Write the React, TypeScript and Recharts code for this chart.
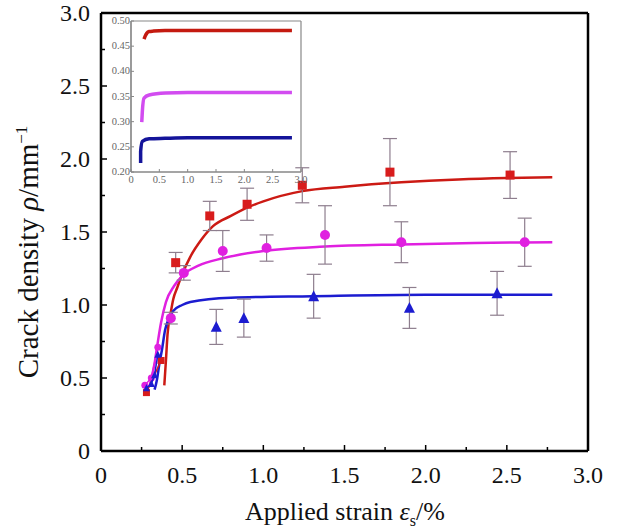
import React from "react";
import { ComposedChart, LineChart, Line, Scatter, XAxis, YAxis, ErrorBar, ReferenceLine } from "recharts";

const FONT = '"Liberation Serif", "Times New Roman", serif';

const xTicks = [0, 0.25, 0.5, 0.75, 1, 1.25, 1.5, 1.75, 2, 2.25, 2.5, 2.75, 3];
const yTicks = [0, 0.25, 0.5, 0.75, 1, 1.25, 1.5, 1.75, 2, 2.25, 2.5, 2.75, 3];
const insetXTicks = [0, 0.5, 1, 1.5, 2, 2.5, 3];
const insetYTicks = [0.2, 0.25, 0.3, 0.35, 0.4, 0.45, 0.5];

// measured crack density with scatter
const redX = [0.46, 0.67, 0.9, 1.24, 1.78, 2.52];
const redY = [1.29, 1.61, 1.69, 1.82, 1.91, 1.89];
const redErr = [0.07, 0.1, 0.11, 0.12, 0.23, 0.16];
const redLowX = [0.28, 0.37];
const redLowY = [0.4, 0.62];

const magX = [0.43, 0.51, 0.75, 1.02, 1.38, 1.85, 2.61];
const magY = [0.91, 1.22, 1.37, 1.39, 1.48, 1.43, 1.43];
const magErr = [0.04, 0.05, 0.14, 0.09, 0.2, 0.14, 0.165];
const magLowX = [0.27, 0.31, 0.35];
const magLowY = [0.45, 0.5, 0.71];

const blueX = [0.71, 0.88, 1.31, 1.9, 2.44];
const blueY = [0.85, 0.91, 1.06, 0.98, 1.08];
const blueErr = [0.12, 0.13, 0.15, 0.14, 0.15];
const blueLowX = [0.28, 0.31, 0.33, 0.35];
const blueLowY = [0.43, 0.46, 0.52, 0.66];

// fitted curves
const redFitX = [0.39, 0.4, 0.41, 0.43, 0.445, 0.47, 0.5, 0.55, 0.62, 0.69, 0.8, 0.907, 1.0, 1.24, 1.5, 1.85, 2.2, 2.5, 2.78];
const redFitY = [0.45, 0.62, 0.8, 0.95, 1.04, 1.12, 1.21, 1.33, 1.45, 1.54, 1.61, 1.67, 1.71, 1.78, 1.81, 1.84, 1.86, 1.87, 1.875];
const magFitX = [0.3, 0.33, 0.345, 0.37, 0.4, 0.45, 0.51, 0.6, 0.75, 1.0, 1.38, 1.85, 2.3, 2.78];
const magFitY = [0.45, 0.6, 0.71, 0.88, 1.02, 1.13, 1.21, 1.27, 1.32, 1.37, 1.4, 1.415, 1.425, 1.43];
const blueFitX = [0.33, 0.345, 0.36, 0.375, 0.395, 0.42, 0.446, 0.5, 0.55, 0.8, 1.3, 2.0, 2.78];
const blueFitY = [0.42, 0.49, 0.6, 0.69, 0.83, 0.91, 0.96, 1.0, 1.02, 1.05, 1.06, 1.07, 1.07];

// inset curves
const insetRedX = [0.23, 0.25, 0.28, 0.32, 0.4, 0.6, 1.0, 2.0, 2.84];
const insetRedY = [0.464, 0.47, 0.476, 0.479, 0.48, 0.481, 0.481, 0.481, 0.481];
const insetMagX = [0.19, 0.2, 0.23, 0.32, 0.61, 1.0, 2.0, 2.84];
const insetMagY = [0.299, 0.32, 0.347, 0.353, 0.357, 0.358, 0.358, 0.358];
const insetBlueX = [0.17, 0.17, 0.2, 0.32, 0.6, 1.0, 2.0, 2.84];
const insetBlueY = [0.218, 0.241, 0.261, 0.266, 0.267, 0.268, 0.268, 0.268];

const RED = "#d81c1c";
const RED_LINE = "#cc1a14";
const MAG = "#e020e0";
const BLUE = "#1c1cd0";
const ERR = "#8e7e8e";

const zip = (xs: number[], ys: number[], es?: number[]) =>
  xs.map((x, i) => ({ x, y: ys[i], e: es ? es[i] : 0 }));

const isMajor = (v: number) => Math.abs(v * 2 - Math.round(v * 2)) < 1e-6;
const fmt = (v: number) => (v === 0 ? "0" : v.toFixed(1));

const MainXTick = (props: any) => {
  const { x, y, payload } = props;
  const major = isMajor(payload.value);
  return (
    <g>
      <path d={`M${x},${y}V${y - (major ? 6 : 4)}`} stroke="#000" strokeWidth={1.5} fill="none" />
      {major && (
        <text x={x} y={y + 32} textAnchor="middle" fontFamily={FONT} fontSize={24} fill="#111">
          {fmt(payload.value)}
        </text>
      )}
    </g>
  );
};

const MainYTick = (props: any) => {
  const { x, y, payload } = props;
  const major = isMajor(payload.value);
  return (
    <g>
      <path d={`M${x},${y}H${x + (major ? 6 : 4)}`} stroke="#000" strokeWidth={1.5} fill="none" />
      {major && (
        <text x={x - 11} y={y + 8} textAnchor="end" fontFamily={FONT} fontSize={24} fill="#111">
          {fmt(payload.value)}
        </text>
      )}
    </g>
  );
};

const InsetXTick = (props: any) => {
  const { x, y, payload } = props;
  return (
    <g>
      <path d={`M${x},${y}V${y - 3}`} stroke="#888" strokeWidth={1} fill="none" />
      <text x={x} y={y + 11} textAnchor="middle" fontFamily={FONT} fontSize={10.5} fill="#666">
        {fmt(payload.value)}
      </text>
    </g>
  );
};

const InsetYTick = (props: any) => {
  const { x, y, payload } = props;
  return (
    <g>
      <path d={`M${x},${y}H${x + 3}`} stroke="#888" strokeWidth={1} fill="none" />
      <text x={x - 1} y={y + 3} textAnchor="end" fontFamily={FONT} fontSize={10.5} fill="#666">
        {payload.value.toFixed(2)}
      </text>
    </g>
  );
};

const Square = (size: number, fill: string) => (p: any) => (
  <rect x={p.cx - size / 2} y={p.cy - size / 2} width={size} height={size} fill={fill} />
);
const Circle = (size: number, fill: string) => (p: any) => (
  <circle cx={p.cx} cy={p.cy} r={size / 2} fill={fill} />
);
const Triangle = (size: number, fill: string) => (p: any) => {
  const h = size * 0.9;
  return (
    <polygon
      points={`${p.cx},${p.cy - h / 2 - 1} ${p.cx - size / 2},${p.cy + h / 2} ${p.cx + size / 2},${p.cy + h / 2}`}
      fill={fill}
    />
  );
};

const errProps = { dataKey: "e", direction: "y" as const, width: 7, stroke: ERR, strokeWidth: 1.2 };
const frame = { stroke: "#000", strokeWidth: 2.5, ifOverflow: "visible" as const };
const insetFrame = { stroke: "#888", strokeWidth: 1.2, ifOverflow: "visible" as const };

export default function App() {
  return (
    <div style={{ position: "absolute", left: 0, top: 0, width: 618, height: 531, background: "#fff" }}>
      <ComposedChart width={618} height={531} margin={{ top: 13, right: 30, left: 0, bottom: 0 }}>
        <XAxis
          dataKey="x"
          type="number"
          domain={[0, 3]}
          ticks={xTicks}
          interval={0}
          height={80}
          tickSize={0}
          tickMargin={0}
          tickLine={false}
          stroke="#000"
          tick={(p: any) => <MainXTick {...p} />}
          axisLine={{ stroke: "#000", strokeWidth: 2 }}
        />
        <YAxis
          type="number"
          domain={[0, 3]}
          ticks={yTicks}
          interval={0}
          width={101}
          tickSize={0}
          tickMargin={0}
          tickLine={false}
          stroke="#000"
          tick={(p: any) => <MainYTick {...p} />}
          axisLine={{ stroke: "#000", strokeWidth: 2 }}
        />
        <ReferenceLine x={0} {...frame} />
        <ReferenceLine x={3} {...frame} />
        <ReferenceLine y={0} {...frame} />
        <ReferenceLine y={3} {...frame} />

        <Line data={zip(redFitX, redFitY)} dataKey="y" type="monotone" stroke={RED_LINE} strokeWidth={2.5} dot={false} isAnimationActive={false} />
        <Line data={zip(magFitX, magFitY)} dataKey="y" type="monotone" stroke={MAG} strokeWidth={2.5} dot={false} isAnimationActive={false} />
        <Line data={zip(blueFitX, blueFitY)} dataKey="y" type="monotone" stroke={BLUE} strokeWidth={2.5} dot={false} isAnimationActive={false} />

        <Scatter data={zip(redLowX, redLowY)} dataKey="y" line={{ stroke: RED, strokeWidth: 1.5 }} shape={Square(7, RED)} isAnimationActive={false} />
        <Scatter data={zip(magLowX, magLowY)} dataKey="y" line={{ stroke: MAG, strokeWidth: 1.5 }} shape={Circle(7, MAG)} isAnimationActive={false} />
        <Scatter data={zip(blueLowX, blueLowY)} dataKey="y" line={{ stroke: BLUE, strokeWidth: 1.5 }} shape={Triangle(7, BLUE)} isAnimationActive={false} />

        <Scatter data={zip(redX, redY, redErr)} dataKey="y" shape={Square(9, RED)} isAnimationActive={false}>
          <ErrorBar {...errProps} />
        </Scatter>
        <Scatter data={zip(magX, magY, magErr)} dataKey="y" shape={Circle(10, MAG)} isAnimationActive={false}>
          <ErrorBar {...errProps} />
        </Scatter>
        <Scatter data={zip(blueX, blueY, blueErr)} dataKey="y" shape={Triangle(11, BLUE)} isAnimationActive={false}>
          <ErrorBar {...errProps} />
        </Scatter>
      </ComposedChart>

      <div style={{ position: "absolute", left: 99, top: 8 }}>
        <LineChart width={215} height={185} margin={{ top: 13, right: 13, left: 0, bottom: 0 }}>
          <XAxis
            dataKey="x"
            type="number"
            domain={[0, 3]}
            ticks={insetXTicks}
            interval={0}
            height={21}
            tickSize={0}
            tickMargin={0}
            tickLine={false}
            stroke="#888"
            tick={(p: any) => <InsetXTick {...p} />}
            axisLine={{ stroke: "#888", strokeWidth: 1.2 }}
          />
          <YAxis
            type="number"
            domain={[0.2, 0.5]}
            ticks={insetYTicks}
            interval={0}
            width={32}
            tickSize={0}
            tickMargin={0}
            tickLine={false}
            stroke="#888"
            tick={(p: any) => <InsetYTick {...p} />}
            axisLine={{ stroke: "#888", strokeWidth: 1.2 }}
          />
          <ReferenceLine x={0} {...insetFrame} />
          <ReferenceLine x={3} {...insetFrame} />
          <ReferenceLine y={0.2} {...insetFrame} />
          <ReferenceLine y={0.5} {...insetFrame} />
          <Line data={zip(insetRedX, insetRedY)} dataKey="y" type="monotone" stroke="#c41a10" strokeWidth={3.5} dot={false} isAnimationActive={false} />
          <Line data={zip(insetMagX, insetMagY)} dataKey="y" type="monotone" stroke="#d24cf0" strokeWidth={3.5} dot={false} isAnimationActive={false} />
          <Line data={zip(insetBlueX, insetBlueY)} dataKey="y" type="monotone" stroke="#14149a" strokeWidth={3.5} dot={false} isAnimationActive={false} />
        </LineChart>
      </div>

      <div
        style={{
          position: "absolute",
          left: 95,
          top: 497,
          width: 500,
          textAlign: "center",
          fontFamily: FONT,
          fontSize: 26,
          lineHeight: "30px",
          color: "#111",
          whiteSpace: "nowrap",
        }}
      >
        Applied strain <i>ε</i>
        <sub style={{ fontSize: 16 }}>s</sub>/%
      </div>
      <div
        style={{
          position: "absolute",
          left: 22 - 250,
          top: 252 - 16,
          width: 500,
          height: 32,
          lineHeight: "32px",
          textAlign: "center",
          fontFamily: FONT,
          fontSize: 29,
          color: "#111",
          whiteSpace: "nowrap",
          transform: "rotate(-90deg)",
        }}
      >
        Crack density <i>ρ</i>/mm<sup style={{ fontSize: 17 }}>−1</sup>
      </div>
    </div>
  );
}
